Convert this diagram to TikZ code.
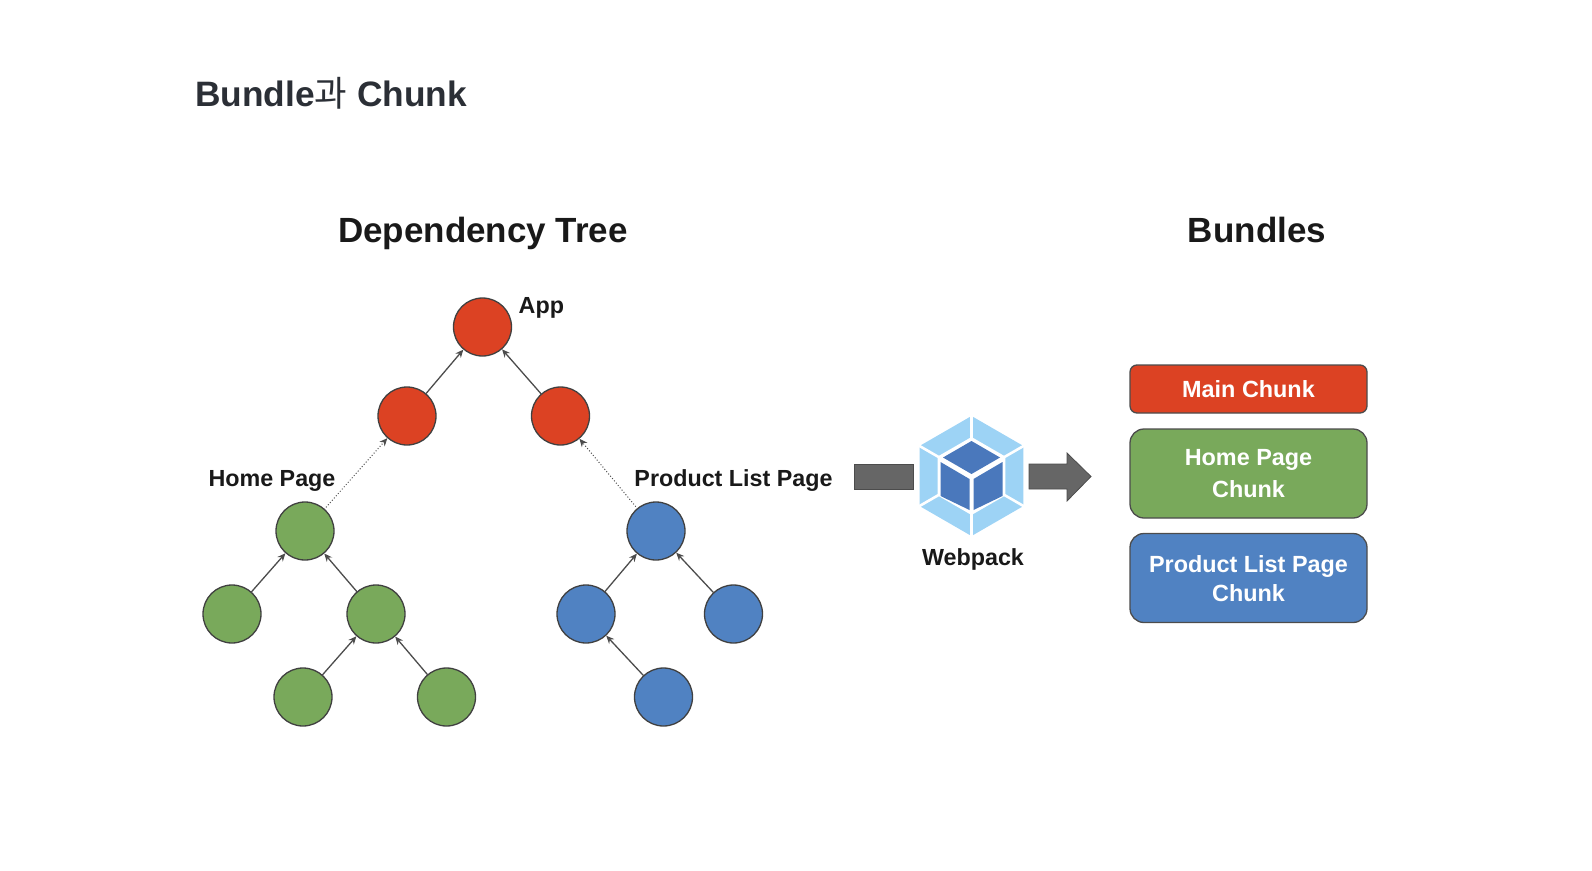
\documentclass[tikz,border=0pt]{standalone}
\usepackage{fontspec}
\setmainfont{Liberation Sans}
\newfontfamily\krfont{Noto Sans CJK KR}
\usetikzlibrary{arrows.meta}
\definecolor{chunkred}{HTML}{DC4223}
\definecolor{chunkgreen}{HTML}{79A95B}
\definecolor{chunkblue}{HTML}{5082C2}
\definecolor{hexlight}{HTML}{9DD3F5}
\definecolor{hexdark}{HTML}{4A78BC}
\definecolor{blockgray}{HTML}{666666}
\definecolor{titleink}{HTML}{2B2F36}
\tikzset{
    module/.style={circle,draw=black!75,line width=1.3pt,minimum size=58pt,inner sep=0pt},
    chunkbox/.style={draw=black!70,line width=1.3pt,rounded corners=14pt,minimum width=237pt,
        text=white,align=center,font=\fontsize{23.4}{31.5}\selectfont\bfseries,inner sep=0pt},
    dep/.style={draw=black!70,line width=1.3pt,-{Stealth[length=8pt,width=7pt]},shorten <=-1pt},
    depdot/.style={dep,line width=1pt,dotted},
    heading/.style={font=\fontsize{35}{40}\selectfont\bfseries,text=black!90,anchor=base},
    tag/.style={font=\fontsize{23.3}{26}\selectfont\bfseries,text=black!90},
    blockarrow/.style={fill=blockgray,draw=black!70,line width=0.8pt}
}
\begin{document}
\begin{tikzpicture}[x=1pt,y=-1pt]
\useasboundingbox (0,0) rectangle (1592,870);

% Titles
\node[anchor=west,text=titleink,font=\fontsize{35.3}{40}\selectfont\bfseries,inner sep=0pt] (title) at (195,93) {Bundle{\krfont\mdseries 과} Chunk};
\node[heading] (treetitle) at (483,242) {Dependency Tree};
\node[heading] (bundletitle) at (1257,242) {Bundles};

% Tree modules
\foreach \name/\px/\py in {appr/482.5/327, redl/407/416, redr/560.5/416}
    \node[module,fill=chunkred] (\name) at (\px,\py) {};
\foreach \name/\px/\py in {homea/305/531, homeb/232/614, homec/376/614, homed/303/697, homee/446.5/697}
    \node[module,fill=chunkgreen] (\name) at (\px,\py) {};
\foreach \name/\px/\py in {proda/656/531, prodb/586/614, prodc/733.5/614, prodd/663.5/697}
    \node[module,fill=chunkblue] (\name) at (\px,\py) {};

% Dependencies
\foreach \from/\to in {redl/appr, redr/appr, homeb/homea, homec/homea, homed/homec, homee/homec, prodb/proda, prodc/proda, prodd/prodb}
    \draw[dep] (\from) -- (\to);
\draw[depdot] (homea) -- (redl);
\draw[depdot] (proda) -- (redr);

% Labels
\node[tag,anchor=west,inner sep=0pt] (applabel) at (518.5,308) {App};
\node[tag] (homelabel) at (272,481) {Home Page};
\node[tag] (prodlabel) at (733.5,481) {Product List Page};
\node[tag] (packlabel) at (973,559) {Webpack};

% Block arrows
\draw[blockarrow] (854,464) -- (913,464) -- (913,489) -- (854,489) -- cycle;
\draw[blockarrow] (1029,464) -- (1067,464) -- (1067,453) -- (1091,476.5) -- (1067,501) -- (1067,489) -- (1029,489) -- cycle;

% Webpack logo
\begin{scope}[shift={(971.5,476)}]
\fill[hexlight] (90:60) -- (30:60) -- (-30:60) -- (-90:60) -- (-150:60) -- (150:60) -- cycle;
\fill[white] (90:39) -- (30:39) -- (-30:39) -- (-90:39) -- (-150:39) -- (150:39) -- cycle;
\foreach \ang in {90,30,-30,-90,-150,150}
    \draw[white,line width=2.6pt] (\ang:38) -- (\ang:62);
\fill[hexdark] (0,-35) -- (28.5,-18.5) -- (0,-2) -- (-28.5,-18.5) -- cycle;
\fill[hexdark] (-31,-14) -- (-2,3) -- (-2,34) -- (-31,20) -- cycle;
\fill[hexdark] (31,-14) -- (2,3) -- (2,34) -- (31,20) -- cycle;
\end{scope}

% Bundles
\node[chunkbox,fill=chunkred,minimum height=48pt,rounded corners=7pt] (mainchunk) at (1248.5,389) {Main Chunk};
\node[chunkbox,fill=chunkgreen,minimum height=89pt] (homechunk) at (1248.5,473.5) {\raisebox{1pt}{Home Page}\\Chunk};
\node[chunkbox,fill=chunkblue,minimum height=89pt,font=\fontsize{23.4}{29}\selectfont\bfseries,text depth=0pt] (prodchunk) at (1248.5,578) {\raisebox{-2pt}{Product List Page}\\\raisebox{-2pt}{Chunk}};
\end{tikzpicture}
\end{document}
